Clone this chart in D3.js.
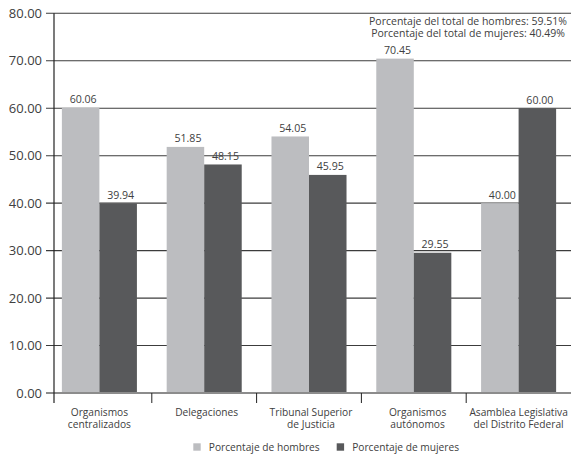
<!DOCTYPE html>
<html>
<head>
<meta charset="utf-8">
<script src="https://cdn.jsdelivr.net/npm/d3@7"></script>
<style>
  html, body { margin: 0; padding: 0; background: #fff; }
  svg { display: block; }
  text { font-family: "Open Sans", "Noto Sans", sans-serif; fill: #404040; font-weight: 400; }
</style>
</head>
<body>
<svg id="chart" width="571" height="454"></svg>
<script>
const categories = [
  ["Organismos", "centralizados"],
  ["Delegaciones"],
  ["Tribunal Superior", "de Justicia"],
  ["Organismos", "autónomos"],
  ["Asamblea Legislativa", "del Distrito Federal"]
];
const categoryKeys = ["c1", "c2", "c3", "c4", "c5"];
const seriesNames = ["Porcentaje de hombres", "Porcentaje de mujeres"];
const hombres = [60.06, 51.85, 54.05, 70.45, 40.00];
const mujeres = [39.94, 48.15, 45.95, 29.55, 60.00];
const yTicks = [0, 10, 20, 30, 40, 50, 60, 70, 80];
const notes = ["Porcentaje del total de hombres: 59.51%", "Porcentaje del total de mujeres: 40.49%"];
const colors = ["#bcbdc0", "#58595b"];
const labelShift = [0, 2.5, 2, 3.8, 0];

const svg = d3.select("#chart");
const W = 571, H = 454;

const y = d3.scaleLinear().domain([0, 80]).range([393, 13.3]);
const x0 = d3.scaleBand().domain(categoryKeys).range([47, 571]).paddingInner(0.284).paddingOuter(0.142);
const x1 = d3.scaleBand().domain([0, 1]).range([0, x0.bandwidth()]);
const axisX = 54;

// y axis labels
const yAxis = d3.axisLeft(y).tickValues(yTicks).tickFormat(d3.format(".2f")).tickSize(0).tickPadding(12);
const gy = svg.append("g").attr("transform", `translate(${axisX},0)`).call(yAxis);
gy.select(".domain").remove();
gy.selectAll("text").style("font-size", "13px").style("font-family", '"Open Sans", sans-serif')
  .attr("fill", "#404040");

// gridlines
svg.append("g").selectAll("line").data(yTicks.filter(d => d > 0)).join("line")
  .attr("x1", 46).attr("x2", W)
  .attr("y1", d => y(d)).attr("y2", d => y(d))
  .attr("stroke", "#3c3c3c").attr("stroke-width", 1.1);

// bars
const data = categoryKeys.map((k, i) => ({ key: k, vals: [hombres[i], mujeres[i]] }));
const groups = svg.append("g").selectAll("g").data(data).join("g")
  .attr("transform", d => `translate(${x0(d.key)},0)`);
groups.selectAll("rect").data(d => d.vals.map((v, j) => ({ v, j }))).join("rect")
  .attr("x", d => x1(d.j))
  .attr("width", x1.bandwidth())
  .attr("y", d => y(d.v))
  .attr("height", d => y(0) - y(d.v))
  .attr("fill", d => colors[d.j]);
groups.selectAll("text.val").data(d => d.vals.map((v, j) => ({ v, j }))).join("text")
  .attr("class", "val")
  .attr("x", d => x1(d.j) + x1.bandwidth() / 2 + 2.5)
  .attr("y", d => y(d.v) - 4.5)
  .attr("text-anchor", "middle")
  .style("font-size", "10.6px")
  .text(d => d3.format(".2f")(d.v));

// baseline
svg.append("line").attr("x1", 46).attr("x2", W).attr("y1", y(0)).attr("y2", y(0))
  .attr("stroke", "#8c8c8c").attr("stroke-width", 2);

// x axis ticks (category boundaries)
const step = x0.step();
const bounds = categoryKeys.slice(1).map(k => x0(k) - x0.paddingInner() * step / 2);
svg.append("g").selectAll("line").data(bounds).join("line")
  .attr("x1", d => d).attr("x2", d => d)
  .attr("y1", y(0)).attr("y2", y(0) + 10)
  .attr("stroke", "#222").attr("stroke-width", 1);

// y axis line
svg.append("line").attr("x1", axisX).attr("x2", axisX).attr("y1", y(80)).attr("y2", y(0) + 10)
  .attr("stroke", "#222").attr("stroke-width", 1.2);

// category labels
const labs = svg.append("g").selectAll("text").data(categoryKeys).join("text")
  .attr("y", 415.5)
  .attr("text-anchor", "middle")
  .style("font-size", "10.2px");
labs.each(function(d, i) {
  const t = d3.select(this);
  const cx = x0(d) + x0.bandwidth() / 2 + labelShift[i];
  categories[i].forEach((line, li) => {
    t.append("tspan").attr("x", cx).attr("dy", li === 0 ? 0 : 12.5).text(line);
  });
});

// annotations
svg.append("g").selectAll("text").data(notes).join("text")
  .attr("x", 468).attr("y", (d, i) => 24.5 + i * 12.7)
  .attr("text-anchor", "middle")
  .style("font-size", "10.5px")
  .text(d => d);

// legend
const legX = [193.3, 336.7];
const leg = svg.append("g").selectAll("g").data(seriesNames).join("g")
  .attr("transform", (d, i) => `translate(${legX[i]},443.3)`);
leg.append("rect").attr("width", 7.4).attr("height", 7.4).attr("fill", (d, i) => colors[i]);
leg.append("text").attr("x", 15.5).attr("y", 7.5).style("font-size", "10.2px").text(d => d);
</script>
</body>
</html>
